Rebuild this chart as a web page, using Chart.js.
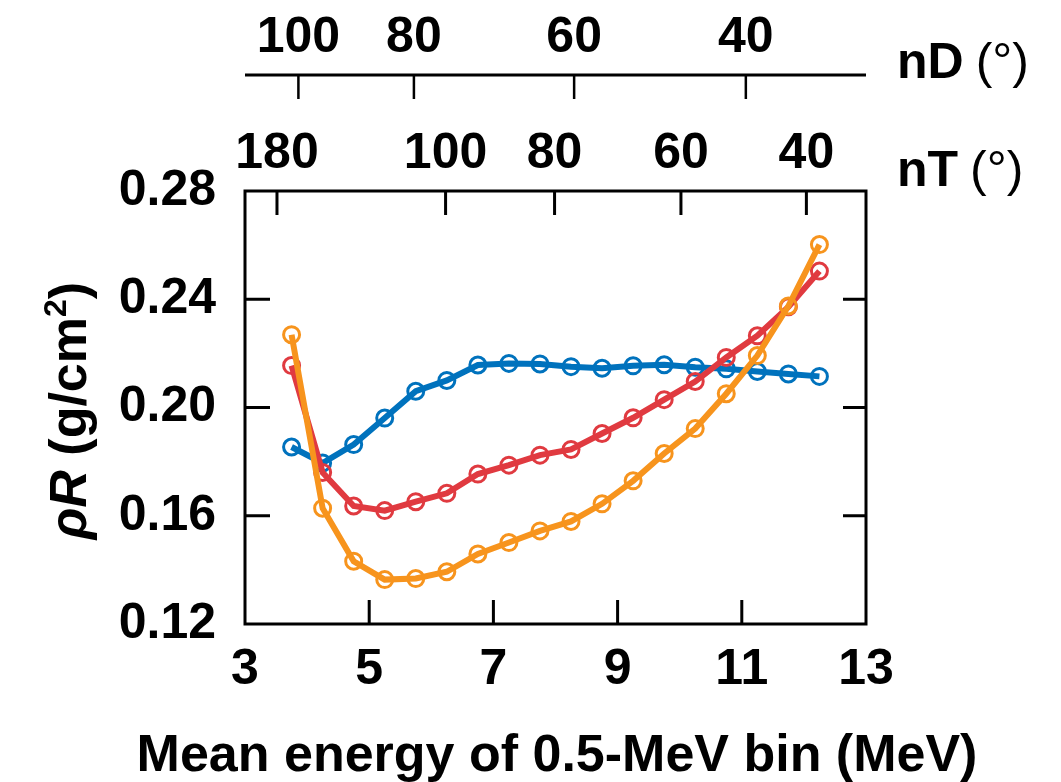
<!DOCTYPE html>
<html>
<head>
<meta charset="utf-8">
<script src="https://cdn.jsdelivr.net/npm/chart.js@4.4.0/dist/chart.umd.min.js"></script>
<style>
  body { margin: 0; background: #fff; }
  #contenedor { width: 1061px; height: 782px; position: relative; }
</style>
</head>
<body>
<div id="contenedor"><canvas id="grafica-rhoR"></canvas></div>
<script>
// energia media de cada bin de 0.5 MeV
const energias = [3.75, 4.25, 4.75, 5.25, 5.75, 6.25, 6.75, 7.25, 7.75, 8.25, 8.75, 9.25, 9.75, 10.25, 10.75, 11.25, 11.75, 12.25];

// rhoR (g/cm2) de cada serie
const rhoAzul = [0.1854, 0.1795, 0.1863, 0.1961, 0.2060, 0.2100, 0.2157, 0.2163, 0.2161, 0.2151, 0.2145, 0.2154, 0.2158, 0.2149, 0.2143, 0.2133, 0.2124, 0.2115];
const rhoRojo = [0.2155, 0.1760, 0.1636, 0.1619, 0.1652, 0.1683, 0.1754, 0.1787, 0.1824, 0.1845, 0.1904, 0.1962, 0.2029, 0.2096, 0.2185, 0.2265, 0.2372, 0.2504];
const rhoNaranja = [0.2269, 0.1628, 0.1432, 0.1364, 0.1368, 0.1393, 0.1459, 0.1501, 0.1544, 0.1579, 0.1644, 0.1729, 0.1830, 0.1922, 0.2051, 0.2192, 0.2375, 0.2602];

// ejes superiores: angulo y la energia (MeV) a la que corresponde
const nTAngulos = ['180', '100', '80', '60', '40'];
const nTEnergias = [3.515, 6.23, 7.985, 10.02, 12.04];
const nDAngulos = ['100', '80', '60', '40'];
const nDEnergias = [3.86, 5.72, 8.30, 11.065];

const tituloX = 'Mean energy of 0.5-MeV bin (MeV)';

const fuente = '"Liberation Sans", Arial, Helvetica, sans-serif';

function puntos(valores) {
    return energias.map((e, i) => ({ x: e, y: valores[i] }));
}

function serie(valores, color, orden) {
    return {
        data: puntos(valores),
        borderColor: color,
        borderWidth: 6,
        pointStyle: 'circle',
        pointRadius: 8,
        pointBorderWidth: 3,
        pointBorderColor: color,
        pointBackgroundColor: 'rgba(0,0,0,0)',
        tension: 0,
        order: orden
    };
}

// marco, ticks hacia adentro, ejes nD / nT y titulos
const marco = {
    id: 'marco',
    afterDraw(chart) {
        const { ctx, chartArea: a, scales: { x, y } } = chart;
        ctx.save();
        ctx.strokeStyle = '#000';
        ctx.fillStyle = '#000';
        ctx.lineWidth = 3;
        ctx.strokeRect(a.left, a.top, a.right - a.left, a.bottom - a.top);

        ctx.beginPath();
        x.ticks.forEach(t => {
            if (t.value <= x.min + 1e-9 || t.value >= x.max - 1e-9) return;
            const px = x.getPixelForValue(t.value);
            ctx.moveTo(px, a.bottom);
            ctx.lineTo(px, a.bottom - 24);
        });
        y.ticks.forEach(t => {
            if (t.value <= y.min + 1e-9 || t.value >= y.max - 1e-9) return;
            const py = y.getPixelForValue(t.value);
            ctx.moveTo(a.left, py);
            ctx.lineTo(a.left + 25, py);
            ctx.moveTo(a.right, py);
            ctx.lineTo(a.right - 23, py);
        });
        nTEnergias.forEach(e => {
            const px = x.getPixelForValue(e);
            ctx.moveTo(px, a.top);
            ctx.lineTo(px, a.top + 24);
        });
        ctx.stroke();

        // eje nD separado arriba
        const lineaD = 75;
        ctx.beginPath();
        ctx.moveTo(a.left, lineaD);
        ctx.lineTo(a.right, lineaD);
        ctx.stroke();
        ctx.lineWidth = 2.5;
        ctx.beginPath();
        nDEnergias.forEach(e => {
            const px = x.getPixelForValue(e);
            ctx.moveTo(px, lineaD);
            ctx.lineTo(px, lineaD + 24);
        });
        ctx.stroke();

        ctx.font = 'bold 50px ' + fuente;
        ctx.textAlign = 'center';
        ctx.textBaseline = 'alphabetic';
        nDEnergias.forEach((e, i) => ctx.fillText(nDAngulos[i], x.getPixelForValue(e), 52));
        nTEnergias.forEach((e, i) => ctx.fillText(nTAngulos[i], x.getPixelForValue(e), 168));

        // titulo del eje x (a mano para que no lo comprima)
        ctx.font = 'bold 52px ' + fuente;
        ctx.fillText(tituloX, 557, 771);

        // nombres de los ejes superiores
        ctx.textAlign = 'left';
        [['nD', 78], ['nT', 186]].forEach(([txt, base]) => {
            ctx.font = 'bold 50px ' + fuente;
            ctx.fillText(txt, 897, base);
            const w = ctx.measureText(txt).width;
            ctx.font = '50px ' + fuente;
            ctx.fillText('(°)', 897 + w + 12, base);
        });

        // titulo del eje y: rhoR (g/cm2)
        const partes = [
            { t: 'ρR', f: 'italic bold 52px ' + fuente, dy: 0 },
            { t: ' (g/cm', f: 'bold 52px ' + fuente, dy: 0 },
            { t: '2', f: 'bold 32px ' + fuente, dy: -20 },
            { t: ')', f: 'bold 52px ' + fuente, dy: 0 }
        ];
        let total = 0;
        partes.forEach(p => { ctx.font = p.f; p.w = ctx.measureText(p.t).width; total += p.w; });
        ctx.translate(86, (a.top + a.bottom) / 2 + 3);
        ctx.rotate(-Math.PI / 2);
        let cx = -total / 2;
        partes.forEach(p => {
            ctx.font = p.f;
            ctx.fillText(p.t, cx, p.dy);
            cx += p.w;
        });
        ctx.restore();
    }
};

const ctx = document.getElementById('grafica-rhoR').getContext('2d');

new Chart(ctx, {
    type: 'line',
    data: {
        datasets: [
            serie(rhoNaranja, '#f7941d', 0),
            serie(rhoRojo, '#e03a40', 1),
            serie(rhoAzul, '#0072bd', 2)
        ]
    },
    options: {
        responsive: true,
        maintainAspectRatio: false,
        animation: false,
        layout: { padding: { top: 191, right: 195, left: 0, bottom: 0 } },
        plugins: {
            legend: { display: false },
            tooltip: { enabled: false }
        },
        scales: {
            x: {
                type: 'linear',
                min: 3,
                max: 13,
                grid: { display: false, drawTicks: false },
                border: { display: false },
                ticks: {
                    stepSize: 2,
                    padding: 16,
                    color: '#000',
                    font: { family: fuente, size: 50, weight: 'bold' }
                },
                afterFit(s) { s.height = 158; }
            },
            y: {
                min: 0.12,
                max: 0.28,
                grid: { display: false, drawTicks: false },
                border: { display: false },
                ticks: {
                    stepSize: 0.04,
                    padding: 29,
                    color: '#000',
                    font: { family: fuente, size: 50, weight: 'bold' },
                    callback: v => v.toFixed(2)
                },
                afterFit(s) { s.width = 245; }
            }
        }
    },
    plugins: [marco]
});
</script>
</body>
</html>
